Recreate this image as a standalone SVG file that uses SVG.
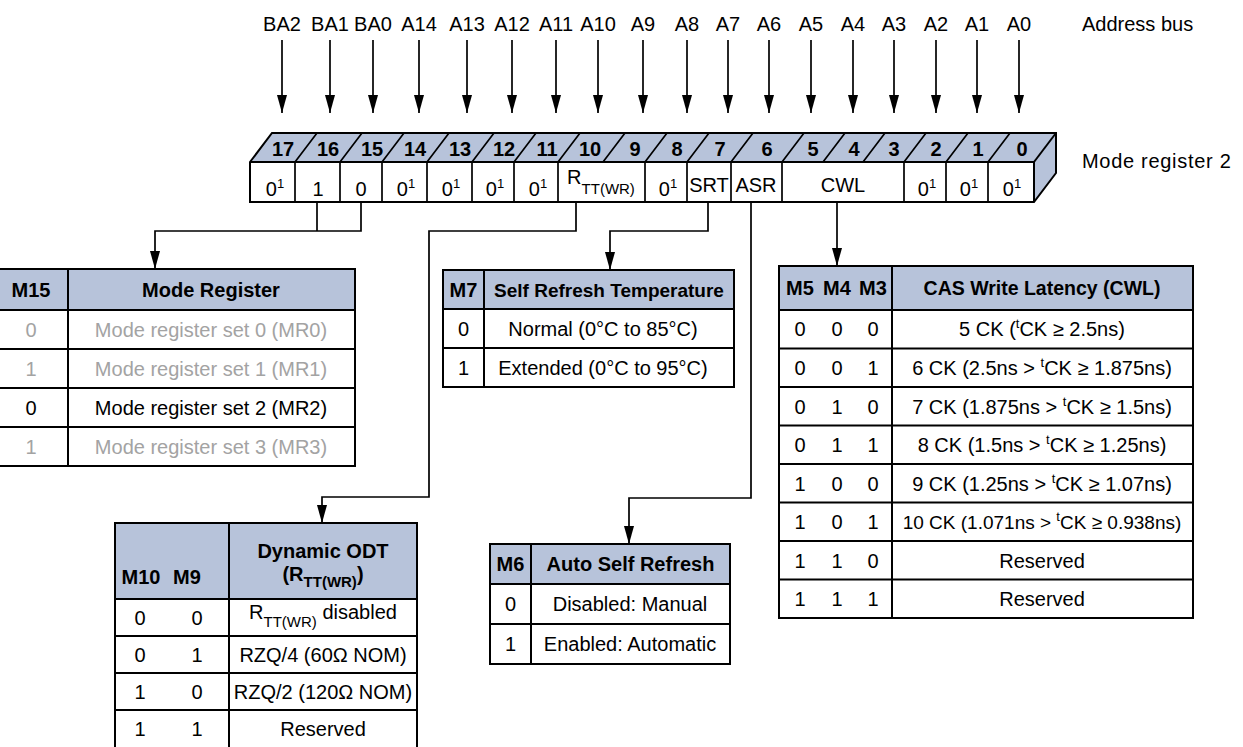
<svg xmlns="http://www.w3.org/2000/svg" width="1243" height="747" viewBox="0 0 1243 747">
<style>
.t{font-family:"Liberation Sans",Arial,sans-serif;font-size:20px;fill:#000}
.b{font-weight:bold}
.c{text-anchor:middle}
.g{fill:#A3A3A3}
.ln{stroke:#000;stroke-width:1.7;fill:none}
.bd{stroke:#000;stroke-width:2;fill:none}
.hd{fill:#B7C3DA}
.sup{font-size:13px}
.sub{font-size:15px}
</style>
<defs>
<marker id="ah" viewBox="0 0 18 10" refX="18" refY="5" markerWidth="18" markerHeight="10" markerUnits="userSpaceOnUse" orient="auto"><path d="M0,0 L18,5 L0,10 z" fill="#000"/></marker>
</defs>
<rect width="1243" height="747" fill="#fff"/>

<g id="address-bus" class="t c">
<text x="282" y="31">BA2</text><text x="330" y="31">BA1</text><text x="373" y="31">BA0</text>
<text x="419" y="31">A14</text><text x="467" y="31">A13</text><text x="512" y="31">A12</text>
<text x="556" y="31">A11</text><text x="598" y="31">A10</text><text x="643" y="31">A9</text>
<text x="687" y="31">A8</text><text x="728" y="31">A7</text><text x="769" y="31">A6</text>
<text x="811" y="31">A5</text><text x="853" y="31">A4</text><text x="894" y="31">A3</text>
<text x="936" y="31">A2</text><text x="977" y="31">A1</text><text x="1019" y="31">A0</text>
</g>
<text id="label-address-bus" class="t" x="1082" y="31">Address bus</text>
<text id="label-mode-register" class="t" x="1082" y="168" font-size="21.5" letter-spacing="0.7">Mode register 2</text>

<g id="register">
<polygon points="250,162 272,133 1056,133 1034,162" class="hd"/>
<polygon points="1034,162 1056,133 1056,173 1034,202" class="hd"/>
<rect x="250" y="162" width="784" height="40" fill="#fff"/>
<g class="bd">
<polygon points="250,162 272,133 1056,133 1056,173 1034,202 250,202"/>
<line x1="250" y1="162" x2="1034" y2="162"/>
<line x1="1034" y1="162" x2="1056" y2="133"/>
<line x1="1034" y1="162" x2="1034" y2="202"/>
</g>
<g class="ln" stroke-width="1.8">
<path d="M295,162l22,-29M340,162l22,-29M382,162l22,-29M427,162l22,-29M472,162l22,-29M514,162l22,-29M558,162l22,-29M603,162l22,-29M645,162l22,-29M687,162l22,-29M731,162l22,-29M782,162l22,-29M823,162l22,-29M863,162l22,-29M904,162l22,-29M946,162l22,-29M988,162l22,-29"/>
<path d="M295,162V202M340,162V202M382,162V202M427,162V202M472,162V202M514,162V202M558,162V202M645,162V202M687,162V202M731,162V202M782,162V202M904,162V202M946,162V202M988,162V202"/>
</g>
<g class="t b c">
<text x="283" y="156">17</text><text x="328" y="156">16</text><text x="372" y="156">15</text>
<text x="415" y="156">14</text><text x="460" y="156">13</text><text x="504" y="156">12</text>
<text x="547" y="156">11</text><text x="590" y="156">10</text><text x="635" y="156">9</text>
<text x="677" y="156">8</text><text x="720" y="156">7</text><text x="767" y="156">6</text>
<text x="813" y="156">5</text><text x="854" y="156">4</text><text x="894" y="156">3</text>
<text x="936" y="156">2</text><text x="978" y="156">1</text><text x="1022" y="156">0</text>
</g>
<g class="t c">
<text x="275" y="196">0<tspan class="sup" dy="-8">1</tspan></text>
<text x="318" y="196">1</text>
<text x="361" y="196">0</text>
<text x="406" y="196">0<tspan class="sup" dy="-8">1</tspan></text>
<text x="451" y="196">0<tspan class="sup" dy="-8">1</tspan></text>
<text x="495" y="196">0<tspan class="sup" dy="-8">1</tspan></text>
<text x="538" y="196">0<tspan class="sup" dy="-8">1</tspan></text>
<text x="601" y="184">R<tspan class="sub" dy="10">TT(WR)</tspan></text>
<text x="668" y="196">0<tspan class="sup" dy="-8">1</tspan></text>
<text x="709" y="192">SRT</text>
<text x="756" y="192">ASR</text>
<text x="843" y="192">CWL</text>
<text x="927" y="196">0<tspan class="sup" dy="-8">1</tspan></text>
<text x="969" y="196">0<tspan class="sup" dy="-8">1</tspan></text>
<text x="1012" y="196">0<tspan class="sup" dy="-8">1</tspan></text>
</g>
</g>

<g id="connectors" class="ln">
<g marker-end="url(#ah)">
<line x1="282" y1="40" x2="282" y2="113"/><line x1="330" y1="40" x2="330" y2="113"/>
<line x1="373" y1="40" x2="373" y2="113"/><line x1="419" y1="40" x2="419" y2="113"/>
<line x1="467" y1="40" x2="467" y2="113"/><line x1="512" y1="40" x2="512" y2="113"/>
<line x1="556" y1="40" x2="556" y2="113"/><line x1="598" y1="40" x2="598" y2="113"/>
<line x1="643" y1="40" x2="643" y2="113"/><line x1="687" y1="40" x2="687" y2="113"/>
<line x1="728" y1="40" x2="728" y2="113"/><line x1="769" y1="40" x2="769" y2="113"/>
<line x1="811" y1="40" x2="811" y2="113"/><line x1="853" y1="40" x2="853" y2="113"/>
<line x1="894" y1="40" x2="894" y2="113"/><line x1="936" y1="40" x2="936" y2="113"/>
<line x1="977" y1="40" x2="977" y2="113"/><line x1="1019" y1="40" x2="1019" y2="113"/>
</g>
<path d="M317,202V231"/>
<path d="M361,202V231H155V269" marker-end="url(#ah)"/>
<path d="M576,202V231H429V497H322V523" marker-end="url(#ah)"/>
<path d="M708,202V231H610V270" marker-end="url(#ah)"/>
<path d="M751,202V498H629V544" marker-end="url(#ah)"/>
<path d="M837,202V266" marker-end="url(#ah)"/>
</g>

<g id="tbl-m15">
<rect x="-6" y="269" width="361" height="41" class="hd"/>
<rect x="-6" y="269" width="361" height="197" class="bd"/>
<path class="bd" d="M-6,310H355M-6,349H355M-6,388H355M-6,427H355M68,269V466"/>
<g class="t c">
<text class="b" x="31" y="297">M15</text><text class="b" x="211" y="297">Mode Register</text>
<text class="g" x="31" y="337">0</text><text class="g" x="211" y="337">Mode register set 0 (MR0)</text>
<text class="g" x="31" y="376">1</text><text class="g" x="211" y="376">Mode register set 1 (MR1)</text>
<text x="31" y="415">0</text><text x="211" y="415">Mode register set 2 (MR2)</text>
<text class="g" x="31" y="454">1</text><text class="g" x="211" y="454">Mode register set 3 (MR3)</text>
</g>
</g>

<g id="tbl-m7">
<rect x="443" y="270" width="291" height="39" class="hd"/>
<rect x="443" y="270" width="291" height="117" class="bd"/>
<path class="bd" d="M443,309H734M443,348H734M484,270V387"/>
<g class="t c">
<text class="b" x="463.5" y="297">M7</text><text class="b" x="609" y="297" font-size="19">Self Refresh Temperature</text>
<text x="463.5" y="336">0</text><text x="603" y="336">Normal (0°C to 85°C)</text>
<text x="463.5" y="375">1</text><text x="603" y="375">Extended (0°C to 95°C)</text>
</g>
</g>

<g id="tbl-cwl">
<rect x="779" y="266" width="414" height="44" class="hd"/>
<rect x="779" y="266" width="414" height="352" class="bd"/>
<path class="bd" d="M779,310H1193M779,348.5H1193M779,387H1193M779,425.5H1193M779,464H1193M779,502.5H1193M779,541H1193M779,579.5H1193M892,266V618"/>
<g class="t c">
<text class="b" x="800" y="295">M5</text><text class="b" x="837" y="295">M4</text><text class="b" x="873" y="295">M3</text>
<text class="b" x="1042" y="295" font-size="19.5">CAS Write Latency (CWL)</text>
<text x="800" y="336">0</text><text x="837" y="336">0</text><text x="873" y="336">0</text>
<text x="1042" y="336">5 CK (<tspan class="sup" dy="-8">t</tspan><tspan dy="8">CK ≥ 2.5ns)</tspan></text>
<text x="800" y="375">0</text><text x="837" y="375">0</text><text x="873" y="375">1</text>
<text x="1042" y="375">6 CK (2.5ns &gt; <tspan class="sup" dy="-8">t</tspan><tspan dy="8">CK ≥ 1.875ns)</tspan></text>
<text x="800" y="413.5">0</text><text x="837" y="413.5">1</text><text x="873" y="413.5">0</text>
<text x="1042" y="413.5">7 CK (1.875ns &gt; <tspan class="sup" dy="-8">t</tspan><tspan dy="8">CK ≥ 1.5ns)</tspan></text>
<text x="800" y="452">0</text><text x="837" y="452">1</text><text x="873" y="452">1</text>
<text x="1042" y="452">8 CK (1.5ns &gt; <tspan class="sup" dy="-8">t</tspan><tspan dy="8">CK ≥ 1.25ns)</tspan></text>
<text x="800" y="490.5">1</text><text x="837" y="490.5">0</text><text x="873" y="490.5">0</text>
<text x="1042" y="490.5">9 CK (1.25ns &gt; <tspan class="sup" dy="-8">t</tspan><tspan dy="8">CK ≥ 1.07ns)</tspan></text>
<text x="800" y="529">1</text><text x="837" y="529">0</text><text x="873" y="529">1</text>
<text x="1042" y="529" font-size="19">10 CK (1.071ns &gt; <tspan class="sup" dy="-8">t</tspan><tspan dy="8">CK ≥ 0.938ns)</tspan></text>
<text x="800" y="567.5">1</text><text x="837" y="567.5">1</text><text x="873" y="567.5">0</text>
<text x="1042" y="567.5">Reserved</text>
<text x="800" y="606">1</text><text x="837" y="606">1</text><text x="873" y="606">1</text>
<text x="1042" y="606">Reserved</text>
</g>
</g>

<g id="tbl-odt">
<rect x="115" y="523" width="302" height="76" class="hd"/>
<rect x="115" y="523" width="302" height="227" class="bd"/>
<path class="bd" d="M115,599H417M115,636H417M115,673H417M115,710H417M229,523V750"/>
<g class="t c">
<text class="b" x="141" y="584">M10</text><text class="b" x="187" y="584">M9</text>
<text class="b" x="323" y="558">Dynamic ODT</text>
<text class="b" x="323" y="581">(R<tspan class="sub" dy="6">TT(WR)</tspan><tspan dy="-6">)</tspan></text>
<text x="140" y="625">0</text><text x="197" y="625">0</text>
<text x="323" y="619">R<tspan class="sub" dy="8">TT(WR)</tspan><tspan dy="-8"> disabled</tspan></text>
<text x="140" y="662">0</text><text x="197" y="662">1</text>
<text x="323" y="662">RZQ/4 (60Ω NOM)</text>
<text x="140" y="699">1</text><text x="197" y="699">0</text>
<text x="323" y="699">RZQ/2 (120Ω NOM)</text>
<text x="140" y="736">1</text><text x="197" y="736">1</text>
<text x="323" y="736">Reserved</text>
</g>
</g>

<g id="tbl-m6">
<rect x="490" y="544" width="240" height="40" class="hd"/>
<rect x="490" y="544" width="240" height="120" class="bd"/>
<path class="bd" d="M490,584H730M490,624H730M531,544V664"/>
<g class="t c">
<text class="b" x="510.5" y="571">M6</text><text class="b" x="630.5" y="571">Auto Self Refresh</text>
<text x="510.5" y="611">0</text><text x="630" y="611">Disabled: Manual</text>
<text x="510.5" y="651">1</text><text x="630" y="651">Enabled: Automatic</text>
</g>
</g>
</svg>
